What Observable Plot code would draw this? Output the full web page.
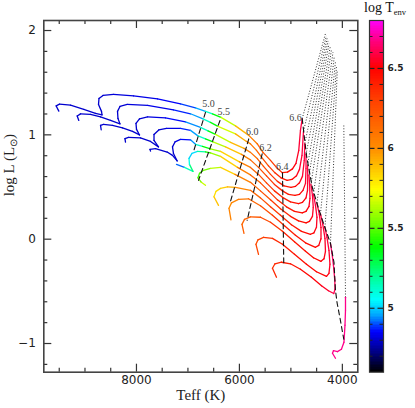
<!DOCTYPE html>
<html><head><meta charset="utf-8">
<script src="https://cdn.jsdelivr.net/npm/d3@7"></script>
<script src="https://cdn.jsdelivr.net/npm/@observablehq/plot@0.6"></script>
<style>
body{margin:0;background:#fff;}
#wrap{position:relative;width:415px;height:408px;overflow:hidden;background:#fff;}
#main{position:absolute;left:0;top:0;}
#cbar{position:absolute;left:365px;top:0;}
#cbtitle{position:absolute;left:364px;top:1px;font:14px "Liberation Serif",serif;color:#111;white-space:nowrap;line-height:14px;}
#cbtitle sub{font-size:8.5px;vertical-align:-3px;line-height:8px;}
</style></head><body>
<div id="wrap"><div id="main"></div><div id="cbar"></div><div id="cbtitle">log T<sub>env</sub></div></div>
<script>
// Each track point: [Teff (K), log L, log Tenv]
const track1 = [[9508,1.227,4.8],[9559,1.277,4.8],[9495,1.294,4.8],[9281,1.285,4.8],[9023,1.244,4.8],[8796,1.205,4.8],[8669,1.191,4.8],[8679,1.225,4.8],[8737,1.292,4.8],[8728,1.349,4.8],[8650,1.378,4.8],[8446,1.387,4.81],[8057,1.373,4.82],[7591,1.344,4.83],[7144,1.296,4.86],[6853,1.258,4.92],[6659,1.225,5.0],[6523,1.201,5.25],[6358,1.167,5.5],[6076,1.086,5.8],[5818,0.995,6.0],[5655,0.915,6.1],[5542,0.832,6.2],[5396,0.755,6.28],[5280,0.688,6.35],[5169,0.638,6.4],[5066,0.643,6.45],[4969,0.674,6.5],[4901,0.727,6.53],[4847,0.851,6.56],[4814,1.043,6.58],[4780,1.155,6.6]];
const track2 = [[9120,1.138,4.8],[9151,1.181,4.8],[9087,1.201,4.8],[8893,1.196,4.8],[8698,1.172,4.8],[8504,1.138,4.8],[8320,1.105,4.8],[8359,1.157,4.8],[8368,1.225,4.8],[8320,1.272,4.8],[8180,1.292,4.81],[7785,1.282,4.82],[7281,1.239,4.84],[6950,1.202,4.9],[6707,1.153,5.0],[6562,1.119,5.25],[6416,1.081,5.5],[6076,1.009,5.85],[5863,0.937,6.0],[5785,0.913,6.05],[5668,0.851,6.12],[5552,0.774,6.2],[5435,0.703,6.28],[5309,0.636,6.35],[5192,0.588,6.4],[5072,0.564,6.45],[4979,0.573,6.48],[4891,0.607,6.52],[4833,0.669,6.55],[4784,0.803,6.58],[4755,1.033,6.6]];
const track3 = [[8685,1.049,4.8],[8698,1.091,4.8],[8640,1.100,4.8],[8465,1.091,4.8],[8271,1.067,4.8],[8077,1.033,4.8],[7941,0.999,4.8],[7999,1.052,4.8],[8009,1.110,4.8],[7941,1.153,4.8],[7785,1.172,4.81],[7436,1.162,4.83],[7047,1.124,4.88],[6756,1.071,5.0],[6610,1.038,5.25],[6465,1.004,5.5],[6173,0.928,5.8],[5911,0.870,6.0],[5785,0.832,6.07],[5649,0.770,6.15],[5532,0.698,6.22],[5396,0.621,6.3],[5261,0.554,6.36],[5134,0.511,6.41],[4998,0.497,6.45],[4911,0.506,6.48],[4833,0.540,6.52],[4775,0.602,6.55],[4740,0.755,6.58],[4730,0.918,6.6]];
const track4 = [[8213,0.931,4.8],[8223,0.963,4.8],[8155,0.976,4.8],[7922,0.971,4.8],[7727,0.937,4.8],[7572,0.885,4.8],[7659,0.947,4.8],[7659,1.004,4.8],[7566,1.047,4.8],[7417,1.062,4.81],[7144,1.062,4.84],[6950,1.043,4.9],[6805,0.990,5.0],[6659,0.961,5.25],[6513,0.932,5.5],[6270,0.885,5.75],[5960,0.813,6.0],[5785,0.760,6.1],[5629,0.688,6.2],[5474,0.607,6.28],[5319,0.525,6.35],[5163,0.463,6.4],[5047,0.430,6.43],[4921,0.420,6.45],[4833,0.430,6.48],[4765,0.468,6.52],[4716,0.535,6.55],[4706,0.679,6.58],[4706,0.813,6.6]];
const track5 = [[7727,0.844,4.8],[7737,0.861,4.8],[7630,0.867,4.8],[7403,0.835,4.8],[7300,0.803,4.8],[7209,0.750,4.8],[7281,0.822,4.8],[7300,0.885,4.8],[7251,0.932,4.81],[7144,0.956,4.83],[6950,0.952,4.88],[6853,0.909,5.0],[6717,0.889,5.25],[6562,0.865,5.5],[6367,0.841,5.68],[5999,0.741,6.0],[5785,0.688,6.1],[5629,0.621,6.2],[5474,0.540,6.28],[5319,0.463,6.35],[5163,0.401,6.4],[5008,0.358,6.43],[4852,0.341,6.46],[4775,0.353,6.49],[4706,0.396,6.52],[4677,0.468,6.55],[4672,0.612,6.58],[4677,0.707,6.6]];
const track6 = [[7222,0.717,4.85],[7067,0.688,4.98],[6902,0.650,5.3],[6970,0.717,5.15],[6979,0.774,5.02],[6921,0.822,4.98],[6814,0.841,5.05],[6659,0.837,5.3],[6562,0.827,5.5],[6367,0.794,5.68],[6037,0.688,6.0],[5785,0.616,6.1],[5591,0.540,6.2],[5435,0.463,6.28],[5261,0.377,6.35],[5086,0.310,6.41],[4930,0.267,6.44],[4780,0.253,6.47],[4706,0.267,6.5],[4648,0.315,6.53],[4629,0.391,6.56],[4635,0.516,6.58],[4648,0.612,6.6]];
const track7 = [[6659,0.516,5.72],[6746,0.549,5.6],[6805,0.588,5.48],[6775,0.631,5.45],[6698,0.660,5.5],[6562,0.679,5.58],[6367,0.688,5.7],[6086,0.621,5.98],[5785,0.545,6.1],[5591,0.463,6.2],[5396,0.377,6.28],[5202,0.291,6.37],[5008,0.219,6.42],[4852,0.176,6.45],[4706,0.157,6.48],[4639,0.171,6.5],[4581,0.219,6.53],[4565,0.305,6.56],[4581,0.420,6.58],[4610,0.525,6.6]];
const track8 = [[6406,0.324,5.92],[6494,0.406,5.83],[6455,0.458,5.8],[6367,0.487,5.82],[6232,0.502,5.88],[6076,0.497,5.95],[5785,0.468,6.1],[5591,0.396,6.2],[5396,0.310,6.28],[5202,0.229,6.36],[4989,0.138,6.42],[4794,0.075,6.46],[4619,0.047,6.48],[4552,0.061,6.5],[4503,0.114,6.53],[4493,0.210,6.56],[4522,0.324,6.58],[4561,0.430,6.6]];
const track9 = [[6164,0.186,6.06],[6202,0.296,6.0],[6154,0.348,6.0],[6018,0.382,6.05],[5824,0.387,6.1],[5591,0.320,6.2],[5358,0.229,6.3],[5124,0.128,6.38],[4911,0.037,6.43],[4716,-0.035,6.46],[4522,-0.078,6.48],[4458,-0.059,6.5],[4415,0.004,6.53],[4415,0.114,6.56],[4448,0.238,6.58],[4493,0.344,6.6]];
const track10 = [[5911,0.056,6.2],[5950,0.142,6.15],[5901,0.190,6.15],[5785,0.214,6.18],[5591,0.210,6.22],[5396,0.162,6.3],[5163,0.075,6.38],[4930,-0.025,6.43],[4716,-0.116,6.46],[4561,-0.178,6.48],[4415,-0.212,6.5],[4357,-0.188,6.52],[4328,-0.116,6.54],[4338,0.008,6.56],[4380,0.142,6.58],[4425,0.243,6.6]];
const track11 = [[5629,-0.145,6.3],[5678,-0.049,6.25],[5639,-0.006,6.25],[5532,0.018,6.3],[5358,0.008,6.35],[5163,-0.049,6.4],[4930,-0.145,6.44],[4697,-0.240,6.47],[4503,-0.312,6.49],[4308,-0.356,6.51],[4260,-0.327,6.53],[4241,-0.240,6.55],[4260,-0.107,6.57],[4299,0.018,6.59],[4338,0.114,6.6]];
const track12 = [[5280,-0.365,6.4],[5358,-0.279,6.35],[5309,-0.236,6.37],[5183,-0.221,6.4],[5008,-0.236,6.43],[4814,-0.288,6.46],[4600,-0.365,6.5],[4405,-0.446,6.53],[4270,-0.494,6.56],[4167,-0.521,6.6],[4143,-0.480,6.62],[4147,-0.394,6.62],[4173,-0.250,6.63],[4202,-0.135,6.64],[4231,-0.040,6.65]];
const track13 = [[4134,-1.141,6.68],[4192,-1.093,6.68],[4173,-1.069,6.68],[4095,-1.078,6.68],[4018,-1.055,6.68],[3969,-0.988,6.68],[3949,-0.825,6.68],[3939,-0.681,6.68],[3939,-0.557,6.68]];

// upper ends of the dotted continuations (Teff, log L), one per track
const rgbTops = [[4328,1.971],[4312,1.948],[4297,1.924],[4279,1.900],[4260,1.873],[4235,1.847],[4211,1.818],[4182,1.792],[4157,1.751],[4134,1.703],[4114,1.660],[4099,1.617],[3972,1.107]];

// iso-Tenv contours (dashed)
const contour50 = [[6659,1.215],[6896,0.832]];
const contour55 = [[6377,1.138],[6795,0.564]];
const contour60 = [[5818,0.961],[6173,0.363]];
const contour62 = [[5558,0.818],[5849,0.181]];
const contour64 = [[5163,0.636],[5138,-0.240]];
const contour66 = [[4780,1.155],[4697,0.803],[4586,0.500],[4464,0.296],[4347,0.123],[4231,-0.040],[4163,-0.221],[4134,-0.490],[4101,-0.614],[4050,-0.745],[4004,-0.873],[3972,-0.959]];
const contourLabels = ["5.0","5.5","6.0","6.2","6.4","6.6"];
const labelTeff = [6601, 6303, 5752, 5493, 5169, 4911];
const labelLogL = [1.296, 1.218, 1.026, 0.877, 0.698, 1.162];

// axes
const xMajor = [4000, 6000, 8000];
const xMajorLabels = ["4000", "6000", "8000"];
const xMinor = [4500, 5000, 5500, 6500, 7000, 7500, 8500, 9000, 9500];
const yMajor = [-1, 0, 1, 2];
const yMajorLabels = ["\u22121", "0", "1", "2"];
const yMinor = [-1.2, -0.8, -0.6, -0.4, -0.2, 0.2, 0.4, 0.6, 0.8, 1.2, 1.4, 1.6, 1.8];
const xTitle = "Teff (K)";
const yTitle = "log L (L\u2299)";

// colour bar
const cbMajor = [5, 5.5, 6, 6.5];
const cbMajorLabels = ["5", "5.5", "6", "6.5"];
const cbMinor = [4.7, 4.8, 4.9, 5.1, 5.2, 5.3, 5.4, 5.6, 5.7, 5.8, 5.9, 6.1, 6.2, 6.3, 6.4, 6.6, 6.7];
const cStops = [4.6, 4.72, 4.85, 4.95, 5.05, 5.2, 5.38, 5.55, 5.74, 5.88, 6.0, 6.3, 6.5, 6.67, 6.8];
const cColors = ["#000000","#000080","#0000ff","#00a0ff","#00ffff","#00ff90","#00ff00","#80ff00","#ffff00","#ffc000","#ff8c00","#ff4000","#ff0000","#ff0080","#ff00ff"];

const colorSpec = {type: "linear", domain: cStops, range: cColors, interpolate: "rgb", clamp: true};

const tracks = [track1, track2, track3, track4, track5, track6, track7, track8, track9, track10, track11, track12, track13];
const segs = [];
tracks.forEach((tr, k) => {
  for (let i = 0; i < tr.length - 1; i++) {
    const a = tr[i], b = tr[i + 1];
    segs.push({k, x1: a[0], y1: a[1], x2: b[0], y2: b[1], t: (a[2] + b[2]) / 2});
  }
});
const dotted = tracks.map((tr, k) => ({x1: tr[tr.length - 1][0], y1: tr[tr.length - 1][1], x2: rgbTops[k][0], y2: rgbTops[k][1]}));
const contours = [contour50, contour55, contour60, contour62, contour64, contour66];
const contourRows = contours.flatMap((c, k) => c.map(p => ({k, x: p[0], y: p[1]})));
const labels = contourLabels.map((s, i) => ({s, x: labelTeff[i], y: labelLogL[i]}));

const tickCol = "#333";
const main = Plot.plot({
  width: 415, height: 408,
  marginLeft: 43.3, marginRight: 57.7, marginTop: 20, marginBottom: 36.3,
  x: {domain: [9800, 3700], axis: null},
  y: {domain: [-1.275, 2.096], axis: null},
  color: colorSpec,
  style: {background: "white"},
  marks: [
    Plot.link(dotted, {x1: "x1", y1: "y1", x2: "x2", y2: "y2", stroke: "#333", strokeWidth: 1, strokeDasharray: "1,1.8"}),
    Plot.link(segs, {x1: "x1", y1: "y1", x2: "x2", y2: "y2", stroke: "t", strokeWidth: 1.3, strokeLinecap: "round"}),
    Plot.line(contourRows, {x: "x", y: "y", z: "k", stroke: "#111", strokeWidth: 1.1, strokeDasharray: "5,3.5"}),
    Plot.text(labels, {x: "x", y: "y", text: "s", fontFamily: "Liberation Serif, serif", fontSize: 10, fill: "#444"}),
    Plot.tickX(xMajor, {x: d => d, insetTop: 343.7, stroke: tickCol, strokeWidth: 1.2}),
    Plot.tickX(xMajor, {x: d => d, insetBottom: 343.7, stroke: tickCol, strokeWidth: 1.2}),
    Plot.tickX(xMinor, {x: d => d, insetTop: 347.7, stroke: tickCol, strokeWidth: 1.2}),
    Plot.tickX(xMinor, {x: d => d, insetBottom: 347.7, stroke: tickCol, strokeWidth: 1.2}),
    Plot.tickY(yMajor, {y: d => d, insetRight: 306, stroke: tickCol, strokeWidth: 1.2}),
    Plot.tickY(yMajor, {y: d => d, insetLeft: 306, stroke: tickCol, strokeWidth: 1.2}),
    Plot.tickY(yMinor, {y: d => d, insetRight: 310, stroke: tickCol, strokeWidth: 1.2}),
    Plot.tickY(yMinor, {y: d => d, insetLeft: 310, stroke: tickCol, strokeWidth: 1.2}),
    Plot.frame({stroke: "#444", strokeWidth: 1.6}),
    Plot.text(xMajor, {x: d => d, text: (d, i) => xMajorLabels[i], frameAnchor: "bottom", dy: 11.5, fontFamily: "DejaVu Sans, sans-serif", fontSize: 12, fill: "#222"}),
    Plot.text(yMajor, {y: d => d, text: (d, i) => yMajorLabels[i], frameAnchor: "left", textAnchor: "end", dx: -8, fontFamily: "DejaVu Sans, sans-serif", fontSize: 12, fill: "#222"}),
    Plot.text([xTitle], {frameAnchor: "bottom", dy: 28, text: d => d, fontFamily: "Liberation Serif, serif", fontSize: 15, fill: "#222"}),
    Plot.text([yTitle], {frameAnchor: "left", dx: -35, rotate: -90, text: d => d, fontFamily: "Liberation Serif, serif", fontSize: 15, fill: "#222"})
  ]
});
// render the sun symbol as a subscript
d3.select(main).selectAll("text").each(function() {
  if (this.textContent === yTitle) {
    const t = d3.select(this);
    t.text("");
    t.append("tspan").text("log L (L");
    t.append("tspan").attr("dy", 3).attr("font-size", 10).text("\u2299");
    t.append("tspan").attr("dy", -3).text(")");
  }
});
document.getElementById("main").appendChild(main);

const levels = d3.range(4.6, 6.8, 0.01);
const cbar = Plot.plot({
  width: 50, height: 408,
  marginLeft: 4, marginRight: 32, marginTop: 20, marginBottom: 36.3,
  x: {domain: [0, 1], axis: null},
  y: {domain: [4.6, 6.8], axis: null},
  color: colorSpec,
  marks: [
    Plot.rect(levels, {x1: d => 0, x2: d => 1, y1: d => d, y2: d => Math.min(6.8, d + 0.013), fill: d => d + 0.005, shapeRendering: "crispEdges"}),
    Plot.tickY(cbMajor, {y: d => d, insetRight: 8.5, stroke: "#222", strokeWidth: 1.2}),
    Plot.tickY(cbMajor, {y: d => d, insetLeft: 8.5, stroke: "#222", strokeWidth: 1.2}),
    Plot.tickY(cbMinor, {y: d => d, insetRight: 10.5, stroke: "#222", strokeWidth: 1}),
    Plot.tickY(cbMinor, {y: d => d, insetLeft: 10.5, stroke: "#222", strokeWidth: 1}),
    Plot.frame({stroke: "#333", strokeWidth: 1.2}),
    Plot.text(cbMajor, {y: d => d, text: (d, i) => cbMajorLabels[i], frameAnchor: "right", textAnchor: "start", dx: 4, fontFamily: "DejaVu Sans, sans-serif", fontSize: 9, fontWeight: "bold", fill: "#222"})
  ]
});
document.getElementById("cbar").appendChild(cbar);
</script>
</body></html>
